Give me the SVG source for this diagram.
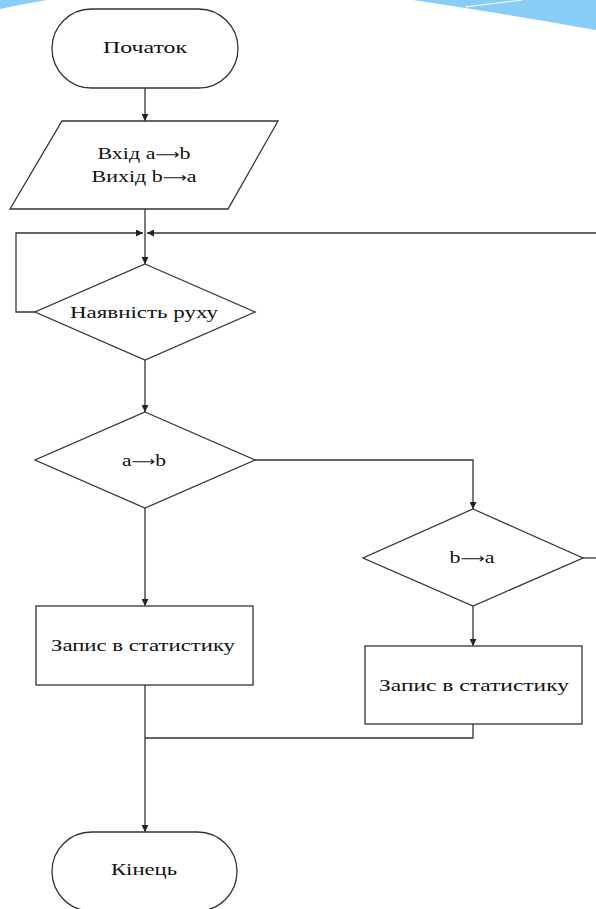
<svg xmlns="http://www.w3.org/2000/svg" width="596" height="909" viewBox="0 0 596 909">
<style>
.shape{fill:#fff;stroke:#333;stroke-width:1.3}
.conn{fill:none;stroke:#333;stroke-width:1.3}
.t{font-family:"Liberation Serif","Times New Roman",serif;font-size:17px;fill:#111;text-anchor:middle}
.ar{font-family:"DejaVu Sans",sans-serif;font-size:13px;font-weight:normal}
</style>
<defs>
<marker id="arr" viewBox="0 0 10 10" refX="10" refY="5" markerWidth="7" markerHeight="7" markerUnits="userSpaceOnUse" orient="auto">
<path d="M0,0 L10,5 L0,10 Z" fill="#222"/>
</marker>
</defs>
<rect width="596" height="909" fill="#fff"/>
<g id="decor">
<path d="M0,0 L47,0 Q22,4 0,9 Z" fill="#88CDF6"/>
<path d="M413,0 L596,0 L596,30 Q500,13 413,0 Z" fill="#88CDF6"/>
<path d="M465,7 L522,0" stroke="#fff" stroke-width="1"/>
</g>
<g id="connectors">
<path class="conn" d="M145,88 L145,121" marker-end="url(#arr)"/>
<path class="conn" d="M145,209 L145,264" marker-end="url(#arr)"/>
<path class="conn" d="M35,312 L16,312 L16,233 L143,233" marker-end="url(#arr)"/>
<path class="conn" d="M596,233 L147,233" marker-end="url(#arr)"/>
<path class="conn" d="M583,558 L596,558"/>
<path class="conn" d="M145,360 L145,412" marker-end="url(#arr)"/>
<path class="conn" d="M255,460 L473,460 L473,509" marker-end="url(#arr)"/>
<path class="conn" d="M145,508 L145,606" marker-end="url(#arr)"/>
<path class="conn" d="M473,606 L473,646" marker-end="url(#arr)"/>
<path class="conn" d="M145,685 L145,832" marker-end="url(#arr)"/>
<path class="conn" d="M473,724 L473,738 L145,738"/>
</g>
<g id="start">
<rect class="shape" x="52" y="9" width="186" height="79" rx="39.5" ry="39.5"/>
<text class="t" x="145" y="53" textLength="84" lengthAdjust="spacingAndGlyphs">Початок</text>
</g>
<g id="io">
<polygon class="shape" points="62,121 278,121 228,209 10,209"/>
<text class="t" x="144" y="159" textLength="93" lengthAdjust="spacingAndGlyphs">Вхід a<tspan class="ar">⟶</tspan>b</text>
<text class="t" x="144" y="182" textLength="105" lengthAdjust="spacingAndGlyphs">Вихід b<tspan class="ar">⟶</tspan>a</text>
</g>
<g id="motion">
<polygon class="shape" points="145,264 255,312 145,360 35,312"/>
<text class="t" x="144" y="318" textLength="148" lengthAdjust="spacingAndGlyphs">Наявність руху</text>
</g>
<g id="ab">
<polygon class="shape" points="145,412 255,460 145,508 35,460"/>
<text class="t" x="144" y="466" textLength="44" lengthAdjust="spacingAndGlyphs">a<tspan class="ar">⟶</tspan>b</text>
</g>
<g id="ba">
<polygon class="shape" points="473,509 583,558 473,606 363,558"/>
<text class="t" x="472" y="563" textLength="45" lengthAdjust="spacingAndGlyphs">b<tspan class="ar">⟶</tspan>a</text>
</g>
<g id="stat1">
<rect class="shape" x="36" y="606" width="217" height="79"/>
<text class="t" x="143" y="651" textLength="184" lengthAdjust="spacingAndGlyphs">Запис в статистику</text>
</g>
<g id="stat2">
<rect class="shape" x="365" y="646" width="217" height="78"/>
<text class="t" x="474" y="691" textLength="190" lengthAdjust="spacingAndGlyphs">Запис в статистику</text>
</g>
<g id="end">
<rect class="shape" x="52" y="832" width="185" height="79" rx="39.5" ry="39.5"/>
<text class="t" x="144" y="875" textLength="66" lengthAdjust="spacingAndGlyphs">Кінець</text>
</g>
</svg>
